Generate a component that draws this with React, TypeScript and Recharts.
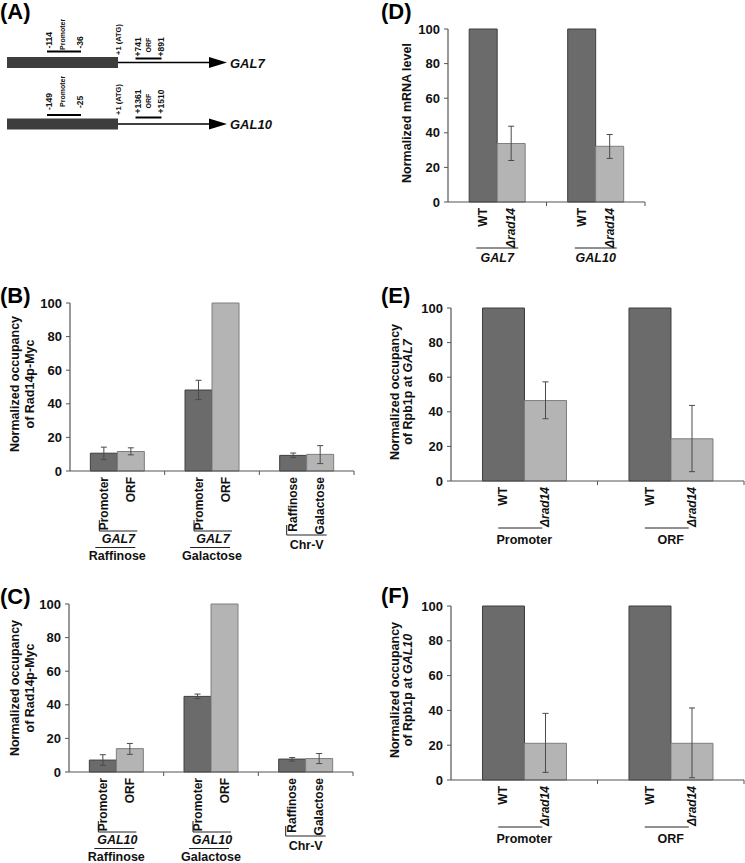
import React from 'react';
import { BarChart, Bar, XAxis, YAxis, ErrorBar, LabelList } from 'recharts';

const FONT = '"Liberation Sans", Arial, Helvetica, sans-serif';
const DARK = '#6b6b6b';
const DARK_EDGE = '#3e3e3e';
const LIGHT = '#b4b4b4';
const LIGHT_EDGE = '#7e7e7e';
const AXIS = '#555555';
const ERR = '#4a4a4a';
const yTicks = [0, 20, 40, 60, 80, 100];

// (B) Rad14p-Myc, GAL7
const bCats = ['GAL7 raf', 'GAL7 gal', 'Chr-V'];
const bGene = ['GAL7', 'GAL7', ''];
const bCond = ['Raffinose', 'Galactose', 'Chr-V'];
const bFirstLabel = ['Promoter', 'Promoter', 'Raffinose'];
const bSecondLabel = ['ORF', 'ORF', 'Galactose'];
const bFirst = [10.6, 48.2, 9.3];
const bFirstErr = [[3.8, 3.6], [5.7, 5.8], [1.2, 1.4]];
const bSecond = [11.6, 100, 9.9];
const bSecondErr = [[2, 2.2], null, [5.5, 5.2]];

// (C) Rad14p-Myc, GAL10
const cCats = ['GAL10 raf', 'GAL10 gal', 'Chr-V'];
const cGene = ['GAL10', 'GAL10', ''];
const cCond = ['Raffinose', 'Galactose', 'Chr-V'];
const cFirstLabel = ['Promoter', 'Promoter', 'Raffinose'];
const cSecondLabel = ['ORF', 'ORF', 'Galactose'];
const cFirst = [7.1, 45, 7.7];
const cFirstErr = [[3.1, 3.2], [1.3, 1.4], [1.2, 0.9]];
const cSecond = [13.9, 100, 8];
const cSecondErr = [[3.4, 3.1], null, [3, 3]];

// (D) mRNA
const dCats = ['GAL7', 'GAL10'];
const dGene = ['GAL7', 'GAL10'];
const dWT = [100, 100];
const dRad14 = [33.8, 32.2];
const dRad14Err = [[9.8, 10], [7, 6.8]];

// (E) Rpb1p at GAL7
const eCats = ['Promoter', 'ORF'];
const eWT = [100, 100];
const eRad14 = [46.5, 24.4];
const eRad14Err = [[10.5, 10.8], [19, 19.3]];

// (F) Rpb1p at GAL10
const fCats = ['Promoter', 'ORF'];
const fWT = [100, 100];
const fRad14 = [21.1, 21.1];
const fRad14Err = [[16.7, 17.2], [19.8, 20.3]];

const build = (cats, top, cond, l1, l2, v1, e1, v2, e2) =>
  cats.map((c, i) => ({
    group: c,
    top: top ? top[i] : '',
    cond: cond[i],
    firstLabel: l1[i],
    secondLabel: l2[i],
    first: v1[i],
    firstErr: e1 ? e1[i] : null,
    second: v2[i],
    secondErr: e2 ? e2[i] : null,
  }));

const bData = build(bCats, bGene, bCond, bFirstLabel, bSecondLabel, bFirst, bFirstErr, bSecond, bSecondErr);
const cData = build(cCats, cGene, cCond, cFirstLabel, cSecondLabel, cFirst, cFirstErr, cSecond, cSecondErr);
const dData = build(dCats, null, dGene, ['WT', 'WT'], ['Δrad14', 'Δrad14'], dWT, null, dRad14, dRad14Err);
const eData = build(eCats, null, eCats, ['WT', 'WT'], ['Δrad14', 'Δrad14'], eWT, null, eRad14, eRad14Err);
const fData = build(fCats, null, fCats, ['WT', 'WT'], ['Δrad14', 'Δrad14'], fWT, null, fRad14, fRad14Err);

const txt = { fontFamily: FONT, fontWeight: 700, fill: '#111' } as const;

function BarName(props: any) {
  const { x, y, width, height, value } = props;
  const cx = x + width / 2;
  const ty = y + height + 6;
  const italic = String(value).startsWith('Δ');
  return (
    <text
      x={cx}
      y={ty}
      transform={`rotate(-90, ${cx}, ${ty})`}
      textAnchor="end"
      dominantBaseline="central"
      fontSize={12}
      fontStyle={italic ? 'italic' : 'normal'}
      {...txt}
    >
      {value}
    </text>
  );
}

function GroupTick(props: any) {
  const { x, y, index, data, catW, kind } = props;
  const row = data[index];
  const last = index === data.length - 1;
  const s = { stroke: '#222', strokeWidth: 1 };
  const marks = [];
  if (index > 0) marks.push(<line key="b" x1={x - catW / 2} x2={x - catW / 2} y1={y} y2={y + 4} stroke={AXIS} />);
  if (last) marks.push(<line key="e" x1={x + catW / 2} x2={x + catW / 2} y1={y} y2={y + 4} stroke={AXIS} />);
  if (kind === 'two' && row.top) {
    marks.push(
      <g key="g">
        <line x1={x - 18} x2={x + 20} y1={y + 60} y2={y + 60} {...s} />
        <line x1={x - 18} x2={x - 18} y1={y + 49} y2={y + 60} {...s} />
        <text x={x + 1} y={y + 72} textAnchor="middle" fontSize={12.5} fontStyle="italic" {...txt}>{row.top}</text>
        <line x1={x - 22} x2={x + 18} y1={y + 76.5} y2={y + 76.5} {...s} />
        <text x={x} y={y + 89} textAnchor="middle" fontSize={12.5} {...txt}>{row.cond}</text>
      </g>
    );
  } else if (kind === 'two') {
    marks.push(
      <g key="g">
        <line x1={x - 20} x2={x + 20} y1={y + 64} y2={y + 64} {...s} />
        <line x1={x - 20} x2={x - 20} y1={y + 54} y2={y + 64} {...s} />
        <text x={x} y={y + 78} textAnchor="middle" fontSize={12.5} {...txt}>{row.cond}</text>
      </g>
    );
  } else {
    const italic = kind === 'gene';
    const ly = italic ? 46 : 47;
    const ty = italic ? 60 : 63;
    marks.push(
      <g key="g">
        <line x1={x - (italic ? 21 : 26)} x2={x + (italic ? 21 : 18)} y1={y + ly} y2={y + ly} {...s} />
        <text x={x} y={y + ty} textAnchor="middle" fontSize={12.5} fontStyle={italic ? 'italic' : 'normal'} {...txt}>{row.cond}</text>
      </g>
    );
  }
  return <g>{marks}</g>;
}

function Panel({ data, plot, kind }: any) {
  const ml = 10, yw = 45, mt = 12, mr = 1, xh = 100;
  const width = plot.w + ml + yw + mr;
  const height = plot.h + mt + xh;
  const catW = plot.w / data.length;
  return (
    <div style={{ position: 'absolute', left: plot.x - ml - yw, top: plot.y - mt }}>
      <BarChart
        width={width}
        height={height}
        data={data}
        margin={{ top: mt, right: mr, left: ml, bottom: 0 }}
        barCategoryGap="21.5%"
        barGap={0}
      >
        <XAxis
          dataKey="group"
          height={xh}
          interval={0}
          axisLine={{ stroke: AXIS, strokeWidth: 1.2 }}
          tickLine={false}
          tickSize={0}
          tickMargin={0}
          tick={(p: any) => <GroupTick {...p} data={data} catW={catW} kind={kind} />}
        />
        <YAxis
          width={yw}
          domain={[0, 100]}
          ticks={yTicks}
          interval={0}
          axisLine={{ stroke: AXIS, strokeWidth: 1.2 }}
          tickLine={{ stroke: AXIS }}
          tickSize={4}
          tickMargin={4}
          tick={{ fontFamily: FONT, fontWeight: 700, fontSize: 13, fill: '#111' }}
        />
        <Bar dataKey="first" fill={DARK} stroke={DARK_EDGE} strokeWidth={1} isAnimationActive={false}>
          <ErrorBar dataKey="firstErr" direction="y" width={3} stroke={ERR} strokeWidth={1} />
          <LabelList dataKey="firstLabel" content={BarName} />
        </Bar>
        <Bar dataKey="second" fill={LIGHT} stroke={LIGHT_EDGE} strokeWidth={1} isAnimationActive={false}>
          <ErrorBar dataKey="secondErr" direction="y" width={3} stroke={ERR} strokeWidth={1} />
          <LabelList dataKey="secondLabel" content={BarName} />
        </Bar>
      </BarChart>
    </div>
  );
}

function Rot({ x, y, size, children, anchor = 'start' }: any) {
  return (
    <text
      x={x}
      y={y}
      transform={`rotate(-90, ${x}, ${y})`}
      textAnchor={anchor}
      dominantBaseline="central"
      fontSize={size}
      {...txt}
    >
      {children}
    </text>
  );
}

function SchematicA() {
  const rowsA = [
    { y: 62.5, gene: 'GAL7', p1: '-114', p2: '-36', o1: '+741', o2: '+891', py: 51.5, oy: 58.5, pb: [48.5, 50, 48.5], ab: 55, ob: [56.5, 52.5, 56.5] },
    { y: 124, gene: 'GAL10', p1: '-149', p2: '-25', o1: '+1361', o2: '+1510', py: 115, oy: 117.5, pb: [110, 107, 108], ab: 115, ob: [113.5, 108.5, 113.5] },
  ];
  return (
    <g>
      {rowsA.map((r) => (
        <g key={r.gene}>
          <rect x={7} y={r.y - 5.5} width={111} height={11} fill="#3d3d3d" />
          <line x1={118} x2={211} y1={r.y} y2={r.y} stroke="#000" strokeWidth={1.6} />
          <polygon points={`${209},${r.y - 5.5} ${227},${r.y} ${209},${r.y + 5.5}`} fill="#000" />
          <text x={230} y={r.y + 5} fontSize={13} fontStyle="italic" {...txt}>{r.gene}</text>
          <line x1={47} x2={81} y1={r.py} y2={r.py} stroke="#000" strokeWidth={2} />
          <Rot x={48.5} y={r.pb[0]} size={8.5}>{r.p1}</Rot>
          <Rot x={62} y={r.pb[1]} size={7}>Promoter</Rot>
          <Rot x={79.5} y={r.pb[2]} size={8.5}>{r.p2}</Rot>
          <Rot x={118} y={r.ab} size={7.5}>+1 (ATG)</Rot>
          <line x1={135.5} x2={161.5} y1={r.oy} y2={r.oy} stroke="#000" strokeWidth={2} />
          <Rot x={137.5} y={r.ob[0]} size={8.5}>{r.o1}</Rot>
          <Rot x={148} y={r.ob[1]} size={7}>ORF</Rot>
          <Rot x={160.5} y={r.ob[2]} size={8.5}>{r.o2}</Rot>
        </g>
      ))}
    </g>
  );
}

function YLabel({ x, y, lines, size, gap }: any) {
  return (
    <g>
      {lines.map((ln: any, i: number) => (
        <Rot key={i} x={x + i * gap} y={y} size={size} anchor="middle">
          {ln}
        </Rot>
      ))}
    </g>
  );
}

export default function App() {
  const letter = { fontFamily: FONT, fontWeight: 700, fontSize: 22, fill: '#000' };
  return (
    <div style={{ position: 'absolute', left: 0, top: 0, width: 745, height: 863, overflow: 'hidden', background: '#fff' }}>
      <Panel data={bData} plot={{ x: 70, y: 303, w: 284, h: 168 }} kind="two" />
      <Panel data={cData} plot={{ x: 69, y: 604, w: 284, h: 168 }} kind="two" />
      <Panel data={dData} plot={{ x: 448, y: 29, w: 197, h: 173 }} kind="gene" />
      <Panel data={eData} plot={{ x: 451, y: 308, w: 293, h: 173 }} kind="region" />
      <Panel data={fData} plot={{ x: 451, y: 606, w: 293, h: 174 }} kind="region" />
      <svg width={745} height={863} style={{ position: 'absolute', left: 0, top: 0, pointerEvents: 'none' }}>
        <SchematicA />
        <text x={0} y={19} {...letter}>(A)</text>
        <text x={0} y={303} {...letter}>(B)</text>
        <text x={0} y={604} {...letter}>(C)</text>
        <text x={381} y={19} {...letter}>(D)</text>
        <text x={381} y={303} {...letter}>(E)</text>
        <text x={381} y={603} {...letter}>(F)</text>
        <YLabel x={15} y={384} size={12.5} gap={14.5} lines={['Normalized occupancy', 'of Rad14p-Myc']} />
        <YLabel x={15} y={688} size={12.5} gap={14.5} lines={['Normalized occupancy', 'of Rad14p-Myc']} />
        <YLabel x={407} y={113} size={12.5} gap={0} lines={['Normalized mRNA level']} />
        <YLabel
          x={395}
          y={392}
          size={12.5}
          gap={12.5}
          lines={['Normalized occupancy', <>of Rpb1p at <tspan fontStyle="italic">GAL7</tspan></>]}
        />
        <YLabel
          x={395}
          y={690}
          size={12.5}
          gap={12.5}
          lines={['Normalized occupancy', <>of Rpb1p at <tspan fontStyle="italic">GAL10</tspan></>]}
        />
      </svg>
    </div>
  );
}
